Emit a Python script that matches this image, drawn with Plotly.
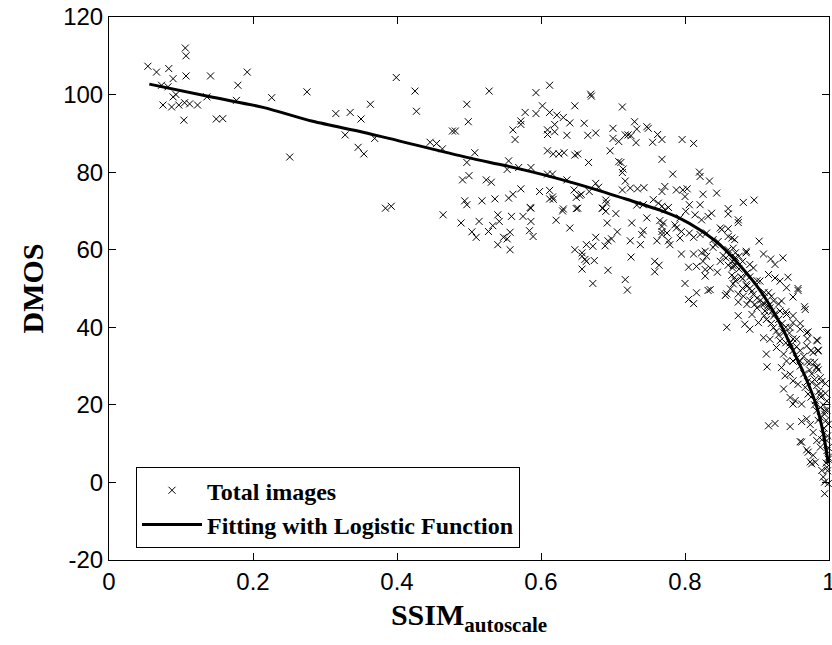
import plotly.graph_objects as go

# ---- scatter data: SSIM_autoscale vs DMOS ----
ssim = [
    0.054, 0.066, 0.083, 0.106, 0.107, 0.089, 0.107, 0.141, 0.192, 0.179,
    0.073, 0.082, 0.089, 0.093, 0.075, 0.087, 0.097, 0.105, 0.112, 0.123,
    0.104, 0.149, 0.158, 0.136, 0.177, 0.226, 0.275, 0.251, 0.315, 0.335,
    0.350, 0.363, 0.328, 0.346, 0.354, 0.369, 0.399, 0.384, 0.392,
    0.425, 0.427, 0.528, 0.497, 0.499, 0.477, 0.481, 0.593, 0.612, 0.669,
    0.670, 0.602, 0.578, 0.593, 0.612, 0.622, 0.631, 0.647, 0.640, 0.572,
    0.572, 0.561, 0.564, 0.619, 0.609, 0.609, 0.619, 0.636, 0.660, 0.665,
    0.676, 0.700, 0.700, 0.708, 0.446, 0.455, 0.463, 0.508, 0.497, 0.555,
    0.553, 0.569, 0.586, 0.609, 0.617, 0.625, 0.632, 0.647, 0.651, 0.696,
    0.708, 0.666, 0.609, 0.616, 0.636, 0.676, 0.680, 0.491, 0.500, 0.524,
    0.531, 0.572, 0.561, 0.555, 0.598, 0.612, 0.616, 0.612, 0.617, 0.646,
    0.649, 0.654, 0.656, 0.667, 0.494, 0.497, 0.518, 0.536, 0.585, 0.651,
    0.631, 0.690, 0.691, 0.686,
    0.464, 0.489, 0.514, 0.504, 0.510, 0.527, 0.533, 0.540, 0.542, 0.559,
    0.557, 0.548, 0.553, 0.540, 0.557, 0.575, 0.586, 0.586, 0.584, 0.589,
    0.621, 0.630, 0.640, 0.649, 0.685, 0.690, 0.704, 0.692, 0.706, 0.676,
    0.672, 0.663, 0.647, 0.657, 0.657, 0.661, 0.663, 0.674, 0.657, 0.672,
    0.693, 0.689, 0.693, 0.698,
    0.713, 0.730, 0.733, 0.747, 0.749, 0.717, 0.721, 0.725, 0.732, 0.762,
    0.768, 0.755, 0.796, 0.812, 0.768, 0.711, 0.714, 0.713, 0.783, 0.820,
    0.821, 0.834, 0.717, 0.713, 0.724, 0.734, 0.743, 0.772, 0.768, 0.788,
    0.797, 0.803, 0.800, 0.825, 0.844, 0.756,
    0.763, 0.768, 0.777, 0.772, 0.742, 0.733, 0.747, 0.765, 0.770, 0.768,
    0.793, 0.801, 0.806, 0.814, 0.823, 0.832, 0.837, 0.821, 0.786, 0.788,
    0.795, 0.793, 0.779, 0.775, 0.777, 0.768, 0.761, 0.740, 0.742, 0.738,
    0.724, 0.726, 0.768, 0.806, 0.812, 0.821, 0.830, 0.842, 0.846, 0.849,
    0.795, 0.812, 0.823, 0.828, 0.830, 0.825, 0.835, 0.845, 0.805, 0.816,
    0.828, 0.828, 0.758, 0.764, 0.758, 0.725, 0.717, 0.720, 0.800, 0.816,
    0.805, 0.812, 0.832, 0.835,
    0.881, 0.896, 0.860, 0.860, 0.874, 0.874, 0.903, 0.851, 0.860, 0.860,
    0.865, 0.869, 0.839, 0.839, 0.867, 0.870, 0.885, 0.885, 0.857, 0.849,
    0.866, 0.875, 0.890, 0.909, 0.919, 0.925, 0.936, 0.866,
    0.853, 0.867, 0.865, 0.869, 0.867, 0.863, 0.858, 0.856, 0.874, 0.874,
    0.874, 0.858,
    0.943, 0.957, 0.967, 0.950, 0.934, 0.916, 0.904, 0.895, 0.886, 0.881,
    0.886, 0.893, 0.883, 0.890, 0.902, 0.913, 0.923, 0.932, 0.941, 0.950,
    0.960, 0.969, 0.984, 0.985, 0.978, 0.969, 0.955, 0.946, 0.932, 0.918,
    0.909, 0.913, 0.914, 0.927, 0.937, 0.941, 0.950, 0.960, 0.974, 0.983,
    0.988, 0.934, 0.939, 0.946, 0.950, 0.957, 0.967, 0.976, 0.988, 0.937,
    0.946, 0.953, 0.962, 0.950, 0.971, 0.981, 0.988, 0.886, 0.893, 0.907,
    0.918, 0.923, 0.911, 0.897, 0.927, 0.937, 0.946, 0.923, 0.916, 0.925,
    0.932, 0.941,
    0.916, 0.925, 0.946, 0.962, 0.969, 0.974, 0.978, 0.962, 0.971, 0.976,
    0.981, 0.990, 0.994, 0.994, 0.997, 0.997, 0.992, 0.988, 0.983, 0.994,
    0.997, 0.999, 0.988, 0.983, 0.992, 0.999,
    0.870, 0.875, 0.878, 0.880, 0.885, 0.890, 0.895, 0.900, 0.905, 0.910,
    0.915, 0.920, 0.925, 0.930, 0.935, 0.940, 0.945, 0.950, 0.955, 0.960,
    0.965, 0.970, 0.973, 0.976, 0.980, 0.983, 0.986, 0.989, 0.992, 0.994,
    0.996, 0.998, 0.999, 0.999, 0.998, 0.996, 0.993, 0.990, 0.985, 0.980,
    0.975, 0.970, 0.965, 0.960, 0.955, 0.950, 0.945, 0.940, 0.930, 0.920,
    0.910, 0.900, 0.890, 0.880, 0.870, 0.860, 0.860, 0.870, 0.880, 0.890,
    0.900, 0.910, 0.920, 0.930, 0.940, 0.950, 0.960, 0.970, 0.975, 0.980,
    0.985, 0.990, 0.995, 0.997, 0.999,
    0.960, 0.969, 0.974, 0.978, 0.983, 0.985, 0.983, 0.995, 0.997, 0.957,
    0.966, 0.971,
]
dmos = [
    107.3, 105.8, 106.7, 112.0, 110.0, 104.1, 104.8, 104.8, 105.8, 102.4,
    102.4, 102.0, 99.4, 100.0, 97.3, 96.8, 97.3, 97.9, 97.6, 97.3,
    93.4, 93.7, 93.8, 99.4, 98.5, 99.2, 100.7, 83.9, 95.1, 95.4,
    93.7, 97.5, 89.6, 86.4, 84.7, 88.7, 104.4, 70.7, 71.2,
    100.9, 95.7, 100.9, 97.5, 93.0, 90.6, 90.6, 100.5, 102.4, 100.1,
    99.6, 97.1, 95.4, 95.1, 95.4, 94.7, 94.1, 97.1, 92.7, 93.2,
    92.3, 90.9, 88.4, 92.3, 90.9, 89.7, 90.4, 89.5, 92.6, 89.5,
    90.1, 91.3, 88.7, 87.9, 87.7, 87.4, 86.0, 85.0, 82.5, 82.9,
    80.7, 81.2, 81.2, 85.5, 84.7, 84.7, 85.0, 84.4, 84.7, 85.5,
    82.7, 82.5, 79.5, 79.5, 78.0, 77.1, 76.1, 78.0, 79.1, 78.0,
    77.4, 75.7, 74.3, 73.3, 75.0, 75.3, 73.6, 73.1, 73.0, 75.4,
    73.5, 74.0, 74.3, 75.0, 72.6, 71.6, 72.6, 73.1, 70.9, 70.7,
    70.5, 72.8, 72.0, 70.7,
    69.0, 66.9, 67.3, 64.6, 63.2, 64.7, 66.2, 69.0, 67.3, 68.6,
    64.5, 63.2, 62.8, 61.3, 60.0, 68.6, 70.7, 67.3, 64.9, 63.4,
    67.6, 70.0, 65.6, 70.6, 70.7, 69.9, 69.3, 66.9, 64.6, 63.2,
    60.9, 61.3, 60.0, 59.2, 58.3, 57.5, 57.0, 57.2, 55.0, 51.3,
    54.7, 61.0, 62.3, 62.8,
    96.8, 93.0, 91.1, 91.7, 91.3, 89.6, 89.6, 89.4, 87.6, 89.7,
    88.4, 87.7, 88.4, 87.4, 83.3, 82.5, 80.8, 79.9, 79.5, 80.0,
    78.9, 77.7, 77.7, 75.4, 75.9, 75.7, 76.0, 76.3, 75.0, 75.4,
    75.4, 75.7, 73.7, 74.3, 74.6, 72.9,
    72.0, 71.2, 70.9, 70.3, 71.6, 71.5, 68.2, 67.5, 66.9, 66.0,
    68.2, 69.9, 71.6, 69.0, 67.7, 68.6, 69.4, 71.6, 66.4, 65.6,
    64.7, 63.0, 61.3, 64.3, 62.3, 63.9, 62.3, 63.9, 64.9, 61.3,
    62.3, 66.9, 64.7, 64.3, 63.2, 63.9, 64.3, 61.3, 62.1, 65.6,
    58.9, 58.9, 59.2, 59.6, 58.3, 57.0, 55.3, 54.2, 55.5, 55.7,
    54.9, 53.2, 57.0, 56.0, 54.3, 58.1, 52.3, 49.6, 51.3, 48.9,
    47.2, 46.1, 49.5, 49.7,
    72.2, 72.8, 70.6, 69.2, 67.7, 67.0, 62.2, 65.2, 65.4, 63.4,
    63.0, 62.6, 62.6, 60.6, 60.4, 59.2, 59.6, 59.2, 57.9, 57.0,
    57.0, 58.3, 56.2, 58.9, 57.6, 56.2, 57.9, 55.3,
    58.5, 55.9, 53.4, 52.8, 51.2, 49.9, 48.6, 48.2, 48.6, 46.5,
    43.0, 40.0,
    52.9, 49.5, 44.6, 47.8, 46.8, 48.9, 51.9, 55.3, 54.0, 48.0,
    45.9, 43.3, 40.8, 39.5, 41.2, 42.0, 42.9, 44.2, 43.3, 41.2,
    39.5, 38.6, 36.5, 33.9, 33.5, 35.2, 36.9, 36.0, 36.5, 36.9,
    37.3, 33.1, 29.8, 34.8, 33.1, 31.3, 31.3, 31.3, 30.9, 29.6,
    27.0, 29.6, 27.5, 27.9, 26.2, 25.3, 24.5, 25.8, 22.8, 24.1,
    21.9, 21.1, 20.2, 20.2, 22.8, 21.1, 19.3, 50.6, 49.3, 45.9,
    45.0, 46.8, 44.2, 45.9, 39.0, 38.6, 39.9, 39.9, 53.6, 52.7,
    51.9, 50.2,
    14.6, 15.2, 14.4, 15.7, 16.4, 14.9, 12.9, 10.4, 7.8, 4.8,
    5.2, 3.1, 0.1, -2.9, 3.9, 8.2, 12.5, 16.8, 18.5, 17.6,
    10.8, 6.5, 9.1, 10.8, 1.4, -0.3,
    56.0, 55.0, 53.0, 52.5, 51.0, 50.0, 48.5, 47.5, 47.0, 46.0,
    45.5, 44.0, 43.5, 42.0, 41.0, 40.0, 38.5, 37.0, 35.0, 34.0,
    32.5, 31.0, 29.0, 28.0, 26.5, 25.0, 23.5, 22.0, 20.0, 18.5,
    16.0, 12.0, 9.0, 6.0, 3.0, 5.0, 14.0, 11.0, 16.0, 20.0,
    22.0, 26.0, 28.0, 30.0, 32.0, 34.0, 35.0, 36.0, 38.0, 41.0,
    43.0, 45.0, 47.0, 50.0, 52.0, 56.0, 60.0, 58.0, 57.0, 53.0,
    52.0, 49.0, 48.0, 46.0, 44.0, 43.0, 41.0, 37.0, 34.0, 31.0,
    29.0, 26.0, 23.0, 21.0, 15.0,
    10.5, 8.4, 5.3, 7.0, 36.7, 34.1, 29.8, 25.5, 18.6, 50.0,
    45.3, 38.8,
]

# ---- fitted logistic curve ----
fit_x = [0.056, 0.144, 0.214, 0.283, 0.353, 0.404, 0.497, 0.550, 0.589,
         0.626, 0.673, 0.719, 0.765, 0.793, 0.821, 0.849, 0.876, 0.904,
         0.932, 0.950, 0.969, 0.983, 0.992, 0.999]
fit_y = [102.7, 99.3, 96.7, 93.1, 90.3, 88.0, 83.8, 81.7, 80.0,
         78.2, 75.7, 73.0, 70.2, 68.1, 65.1, 61.2, 56.0, 49.6,
         41.0, 34.1, 26.4, 19.5, 12.7, 4.9]

x_ticks = [0, 0.2, 0.4, 0.6, 0.8, 1]
x_tick_text = ["0", "0.2", "0.4", "0.6", "0.8", "1"]
y_ticks = [-20, 0, 20, 40, 60, 80, 100, 120]
y_tick_text = ["-20", "0", "20", "40", "60", "80", "100", "120"]

fig = go.Figure()
fig.add_trace(go.Scatter(
    x=ssim, y=dmos, mode="markers", name="Total images",
    marker=dict(symbol="x-thin", size=7, color="black",
                line=dict(color="black", width=1)),
    cliponaxis=False,
))
fig.add_trace(go.Scatter(
    x=fit_x, y=fit_y, mode="lines", name="Fitting with Logistic Function",
    line=dict(color="black", width=3, shape="spline", smoothing=0.8),
))

sans = "Liberation Sans, Arial, Helvetica, sans-serif"
serif = "Liberation Serif, Times New Roman, serif"

fig.update_layout(
    width=832, height=645,
    margin=dict(l=109, r=3, t=17, b=85),
    paper_bgcolor="white", plot_bgcolor="white",
    showlegend=True,
    legend=dict(
        x=0.0375, y=0.171, xanchor="left", yanchor="top",
        bgcolor="white", bordercolor="black", borderwidth=1,
        font=dict(family=serif, size=24, color="black", weight="bold"),
        itemwidth=60,
        tracegroupgap=0,
    ),
    xaxis=dict(
        range=[0, 1], tickvals=x_ticks, ticktext=x_tick_text,
        ticks="inside", ticklen=7, tickcolor="black", tickwidth=1,
        showline=True, linecolor="black", linewidth=1, mirror="ticks",
        showgrid=False, zeroline=False, automargin=False,
        ticklabeloverflow="allow",
        tickfont=dict(family=sans, size=24, color="black"),
        title=dict(text="<b>SSIM<sub>autoscale</sub></b>", standoff=10,
                   font=dict(family=serif, size=30, color="black")),
    ),
    yaxis=dict(
        range=[-20, 120], tickvals=y_ticks, ticktext=y_tick_text,
        ticks="inside", ticklen=7, tickcolor="black", tickwidth=1,
        showline=True, linecolor="black", linewidth=1, mirror="ticks",
        showgrid=False, zeroline=False, automargin=False,
        ticklabeloverflow="allow",
        tickfont=dict(family=sans, size=24, color="black"),
        title=dict(text="<b>DMOS</b>", standoff=10,
                   font=dict(family=serif, size=30, color="black")),
    ),
)

fig.write_html("out.html",
               config={"displayModeBar": False},
               post_script="document.body.style.margin='0';"
                           "document.body.style.overflow='hidden';")
